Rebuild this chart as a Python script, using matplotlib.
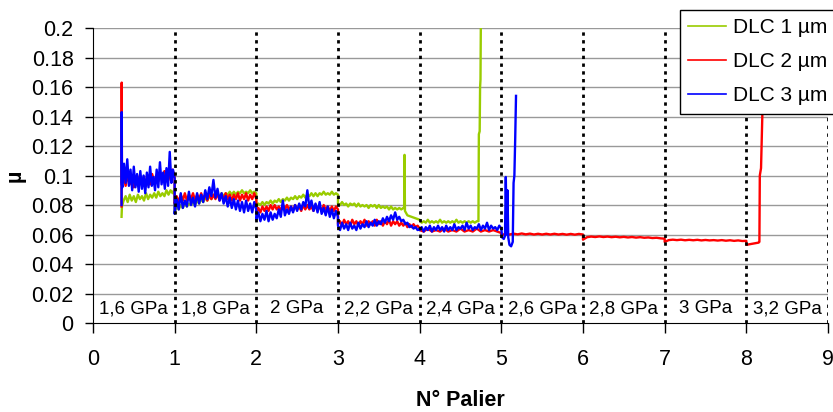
import numpy as np
import matplotlib
matplotlib.use('Agg')
from matplotlib import pyplot as plt

plt.rcParams['font.family'] = ['Liberation Sans', 'DejaVu Sans']

# DLC 1 um (green)
dlc1_parts = [
    ([0.35, 0.355], [0.072, 0.079]),
    (0.375, 1.0, [0.083, 0.086, 0.082, 0.087, 0.083, 0.086, 0.082, 0.087, 0.084, 0.086, 0.083, 0.088, 0.084,
                  0.087, 0.085, 0.088, 0.085, 0.089, 0.086, 0.088, 0.086, 0.090, 0.087, 0.090, 0.088, 0.091]),
    (1.0, 2.0, [0.075, 0.079, 0.077, 0.080, 0.078, 0.081, 0.079, 0.081, 0.080, 0.082, 0.080, 0.083, 0.081, 0.084,
                0.082, 0.085, 0.083, 0.086, 0.084, 0.087, 0.085, 0.087, 0.086, 0.088, 0.086, 0.088, 0.087, 0.089,
                0.087, 0.089, 0.087, 0.089, 0.088, 0.090, 0.088, 0.089, 0.088, 0.090, 0.088, 0.089, 0.088]),
    (2.0, 3.0, [0.079, 0.081, 0.080, 0.082, 0.080, 0.082, 0.081, 0.083, 0.081, 0.083, 0.082, 0.084, 0.082, 0.084,
                0.083, 0.085, 0.083, 0.085, 0.084, 0.086, 0.084, 0.086, 0.085, 0.087, 0.085, 0.087, 0.086, 0.088,
                0.086, 0.088, 0.086, 0.088, 0.087, 0.089, 0.087, 0.088, 0.087, 0.089, 0.087, 0.088, 0.087]),
    (3.0, 3.8, [0.081, 0.080, 0.082, 0.080, 0.081, 0.079, 0.081, 0.080, 0.081, 0.079, 0.081, 0.079, 0.080, 0.079,
                0.080, 0.078, 0.080, 0.079, 0.080, 0.078, 0.080, 0.078, 0.079, 0.078, 0.079, 0.077, 0.079, 0.077,
                0.078, 0.077, 0.078, 0.077, 0.078]),
    ([3.81, 3.815, 3.82, 3.85, 3.9, 3.95], [0.078, 0.114, 0.076, 0.073, 0.072, 0.071]),
    (4.0, 4.7, [0.070, 0.068, 0.069, 0.068, 0.070, 0.068, 0.069, 0.068, 0.069, 0.068, 0.070, 0.068, 0.069, 0.068,
                0.069, 0.068, 0.069, 0.068, 0.070, 0.068, 0.069, 0.068, 0.069, 0.068, 0.069, 0.068, 0.069, 0.068,
                0.069]),
    ([4.72, 4.725, 4.735, 4.74, 4.745, 4.75], [0.069, 0.128, 0.130, 0.160, 0.165, 0.21]),
]

# DLC 2 um (red)
dlc2_parts = [
    ([0.35, 0.352, 0.355], [0.079, 0.163, 0.095]),
    (0.375, 1.0, [0.099, 0.093, 0.100, 0.094, 0.099, 0.092, 0.098, 0.093, 0.100, 0.094, 0.099, 0.093, 0.098,
                  0.094, 0.101, 0.095, 0.100, 0.096, 0.102, 0.097, 0.103, 0.098, 0.104, 0.097, 0.104, 0.099]),
    (1.0, 2.0, [0.081, 0.086, 0.082, 0.087, 0.083, 0.088, 0.083, 0.087, 0.084, 0.088, 0.083, 0.087, 0.084, 0.088,
                0.084, 0.087, 0.083, 0.088, 0.084, 0.087, 0.084, 0.088, 0.083, 0.087, 0.084, 0.088, 0.084, 0.087,
                0.083, 0.087, 0.084, 0.088, 0.083, 0.087, 0.084, 0.088, 0.083, 0.087, 0.084, 0.088, 0.084]),
    (2.0, 3.0, [0.075, 0.078, 0.075, 0.079, 0.076, 0.079, 0.076, 0.080, 0.077, 0.080, 0.077, 0.079, 0.076, 0.080,
                0.077, 0.080, 0.077, 0.079, 0.076, 0.080, 0.077, 0.079, 0.076, 0.080, 0.077, 0.080, 0.077, 0.079,
                0.076, 0.080, 0.077, 0.079, 0.076, 0.080, 0.077, 0.079, 0.076, 0.079, 0.076, 0.079, 0.077]),
    (3.0, 4.0, [0.067, 0.069, 0.066, 0.070, 0.067, 0.069, 0.066, 0.070, 0.067, 0.069, 0.066, 0.069, 0.067, 0.070,
                0.066, 0.069, 0.067, 0.069, 0.066, 0.070, 0.067, 0.069, 0.066, 0.069, 0.067, 0.070, 0.066, 0.069,
                0.067, 0.069, 0.066, 0.068, 0.066, 0.068, 0.065, 0.067, 0.065, 0.067, 0.065, 0.066, 0.064]),
    (4.0, 5.0, [0.063, 0.062, 0.064, 0.062, 0.063, 0.062, 0.064, 0.062, 0.063, 0.062, 0.064, 0.062, 0.063, 0.062,
                0.064, 0.062, 0.063, 0.062, 0.063, 0.062, 0.061]),
    (5.0, 6.0, [0.0595, 0.0605, 0.0600, 0.0606, 0.0601, 0.0607, 0.0601, 0.0606, 0.0600, 0.0605, 0.0600, 0.0605,
                0.0600, 0.0605, 0.0600, 0.0604, 0.0599, 0.0604, 0.0599, 0.0604, 0.0600]),
    (6.0, 7.0, [0.0565, 0.0582, 0.0586, 0.0583, 0.0587, 0.0583, 0.0586, 0.0582, 0.0585, 0.0581, 0.0584, 0.0580,
                0.0583, 0.0579, 0.0582, 0.0578, 0.0580, 0.0576, 0.0578, 0.0574, 0.0572]),
    (7.0, 8.0, [0.0550, 0.0562, 0.0565, 0.0562, 0.0565, 0.0561, 0.0564, 0.0561, 0.0564, 0.0560, 0.0563, 0.0560,
                0.0562, 0.0559, 0.0562, 0.0558, 0.0561, 0.0557, 0.0560, 0.0556, 0.0557]),
    ([8.0, 8.05, 8.1, 8.15, 8.16, 8.165, 8.18, 8.2, 8.22], [0.053, 0.0535, 0.054, 0.0545, 0.055, 0.100, 0.105, 0.15, 0.21]),
]

# DLC 3 um (blue)
dlc3_parts = [
    ([0.35, 0.352, 0.355], [0.080, 0.143, 0.094]),
    (0.36, 1.0, [0.092, 0.108, 0.095, 0.111, 0.093, 0.104, 0.090, 0.106, 0.092, 0.101, 0.089, 0.103, 0.091, 0.100,
                 0.088, 0.102, 0.092, 0.106, 0.093, 0.099, 0.090, 0.104, 0.092, 0.109, 0.094, 0.102, 0.091, 0.105,
                 0.093, 0.116, 0.095, 0.104, 0.098]),
    (1.0, 2.0, [0.074, 0.084, 0.077, 0.088, 0.078, 0.083, 0.079, 0.089, 0.080, 0.085, 0.079, 0.088, 0.081, 0.087,
                0.082, 0.090, 0.084, 0.092, 0.086, 0.097, 0.085, 0.091, 0.083, 0.088, 0.081, 0.086, 0.079, 0.085,
                0.078, 0.084, 0.077, 0.083, 0.076, 0.082, 0.075, 0.083, 0.076, 0.081, 0.075, 0.082, 0.077]),
    (2.0, 3.0, [0.070, 0.075, 0.069, 0.074, 0.070, 0.076, 0.069, 0.075, 0.070, 0.074, 0.071, 0.077, 0.072, 0.083,
                0.073, 0.077, 0.074, 0.079, 0.075, 0.080, 0.076, 0.081, 0.077, 0.082, 0.079, 0.090, 0.078, 0.083,
                0.076, 0.081, 0.075, 0.082, 0.074, 0.078, 0.073, 0.079, 0.072, 0.077, 0.071, 0.076, 0.072]),
    (3.0, 4.0, [0.066, 0.063, 0.068, 0.064, 0.067, 0.063, 0.068, 0.064, 0.066, 0.063, 0.068, 0.064, 0.067, 0.065,
                0.069, 0.065, 0.068, 0.066, 0.070, 0.066, 0.069, 0.067, 0.071, 0.068, 0.072, 0.069, 0.073, 0.070,
                0.075, 0.070, 0.072, 0.069, 0.070, 0.067, 0.068, 0.065, 0.066, 0.064, 0.065, 0.063, 0.064]),
    (4.0, 5.0, [0.063, 0.065, 0.062, 0.065, 0.063, 0.066, 0.062, 0.065, 0.063, 0.066, 0.063, 0.065, 0.062, 0.066,
                0.063, 0.065, 0.063, 0.067, 0.063, 0.065, 0.064, 0.066, 0.063, 0.068, 0.064, 0.066, 0.063, 0.065,
                0.064, 0.067, 0.063, 0.066, 0.064, 0.068, 0.063, 0.066, 0.064, 0.065, 0.063, 0.066, 0.064]),
    ([5.01, 5.03, 5.045, 5.055, 5.065, 5.075, 5.085, 5.1, 5.12, 5.14, 5.15, 5.16, 5.17, 5.18],
     [0.058, 0.057, 0.059, 0.099, 0.060, 0.090, 0.058, 0.053, 0.052, 0.055, 0.095, 0.100, 0.125, 0.154]),
]

labels = ['DLC 1 µm', 'DLC 2 µm', 'DLC 3 µm']
colors = ['#99CC00', '#FF0000', '#0000FF']
pressures = ['1,6 GPa', '1,8 GPa', '2 GPa', '2,2 GPa', '2,4 GPa', '2,6 GPa', '2,8 GPa', '3 GPa', '3,2 GPa']
y_ticks = [0, 0.02, 0.04, 0.06, 0.08, 0.1, 0.12, 0.14, 0.16, 0.18, 0.2]
y_tick_labels = ['0', '0.02', '0.04', '0.06', '0.08', '0.1', '0.12', '0.14', '0.16', '0.18', '0.2']


def build(parts):
    xs, ys = [], []
    for p in parts:
        if len(p) == 3:
            xs.extend(np.linspace(p[0], p[1], len(p[2])))
            ys.extend(p[2])
        else:
            xs.extend(p[0])
            ys.extend(p[1])
    return np.array(xs), np.array(ys)


fig = plt.figure(figsize=(8.33, 4.12), dpi=100)
ax = fig.add_axes([0.1116, 0.216, 0.8824, 0.716])

for parts, lab, col in zip([dlc1_parts, dlc2_parts, dlc3_parts], labels, colors):
    x, y = build(parts)
    ax.plot(x, y, color=col, lw=1.7, label=lab, zorder=3)

for v in y_ticks[1:]:
    ax.axhline(v, color='#999999', lw=1, zorder=1)
for k in range(1, 10):
    ax.axvline(k, color='black', lw=2, ls=(0, (1.2, 1.6)), zorder=4)

for i, p in enumerate(pressures):
    ax.text(i + 0.5, 0.0095, p, ha='center', va='center', fontsize=13.5, zorder=5)

ax.set_xlim(0, 9)
ax.set_ylim(0, 0.2)
ax.set_xticks(range(10))
ax.set_yticks(y_ticks)
ax.set_yticklabels(y_tick_labels)
ax.tick_params(axis='both', labelsize=15.5, direction='out', width=1)
ax.tick_params(axis='y', length=6, pad=8)
ax.tick_params(axis='x', length=7, pad=12)
for s in ['top', 'right']:
    ax.spines[s].set_visible(False)
ax.set_xlabel('N° Palier', fontsize=15.5, fontweight='bold', labelpad=14)
ax.set_ylabel('µ', fontsize=15.5, fontweight='bold', labelpad=4)

handles, labs = ax.get_legend_handles_labels()
leg = fig.legend(handles, labs, loc='upper left', bbox_to_anchor=(0.816, 0.976), fontsize=15,
                 frameon=True, fancybox=False, edgecolor='black', framealpha=1,
                 handlelength=1.8, handletextpad=0.35, labelspacing=0.72, borderpad=0.4,
                 borderaxespad=0)
leg.get_frame().set_linewidth(1)
for line in leg.get_lines():
    line.set_linewidth(1.2)

fig.savefig('out.png', dpi=100)
